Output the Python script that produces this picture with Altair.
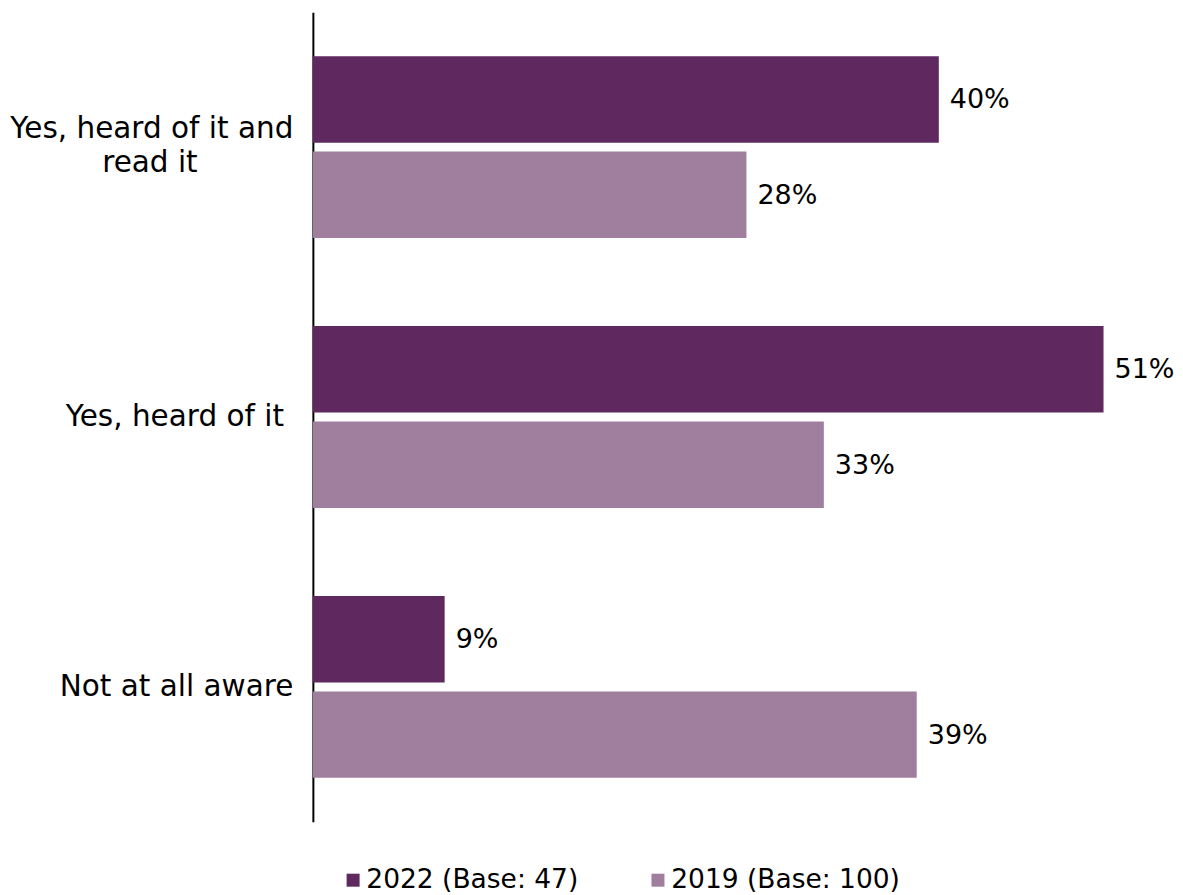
import altair as alt
import pandas as pd

BLANK = "\u2800"
categories = ["Yes, heard of it and read it", "Yes, heard of it", "Not at all aware"]
cat_labels = ["Yes, heard of it and|read it\u00a0" + BLANK * 4,
              "Yes, heard of it\u00a0\u200b", "Not at all aware"]
series = ["2022 (Base: 47)", "2019 (Base: 100)"]
values_2022 = [19 / 47 * 100, 24 / 47 * 100, 4 / 47 * 100]
values_2019 = [28, 33, 39]
colors = ["#5F285F", "#A07F9E"]

rows = []
for c, lab, v in zip(categories, cat_labels, values_2022):
    rows.append({"cat": lab, "series": series[0], "value": v, "label": f"{round(v)}%"})
for c, lab, v in zip(categories, cat_labels, values_2019):
    rows.append({"cat": lab, "series": series[1], "value": v, "label": f"{round(v)}%"})
df = pd.DataFrame(rows)

FONT = "DejaVu Sans"

y = alt.Y("cat:N", sort=cat_labels, title=None,
          scale=alt.Scale(paddingInner=0.326, paddingOuter=0.163),
          axis=alt.Axis(labelExpr="split(datum.label, '|')", labelFont=FONT, labelFontSize=29.5,
                        labelColor="black", labelPadding=20, ticks=False, domainColor="black",
                        domainWidth=2, labelLimit=400, labelLineHeight=34, grid=False,
                        labelOffset={"condition": {"test": "indexof(datum.value, '|') >= 0", "value": -18},
                                     "value": 0}))
yo = alt.YOffset("series:N", sort=series, scale=alt.Scale(paddingInner=0.094, paddingOuter=0))
x = alt.X("value:Q", scale=alt.Scale(domain=[0, 52]), axis=None)

bars = alt.Chart(df).mark_bar().encode(
    x=x, y=y, yOffset=yo,
    color=alt.Color("series:N", sort=series, scale=alt.Scale(domain=series, range=colors),
                    legend=alt.Legend(title=None, orient="none", legendX=27, legendY=855,
                                      direction="horizontal", symbolType="square",
                                      symbolSize=169, symbolStrokeWidth=0, labelFont=FONT,
                                      labelFontSize=26.5, labelColor="black", labelOffset=0,
                                      columnPadding=66, labelLimit=400)),
)
text = alt.Chart(df).mark_text(align="left", baseline="middle", dx=11, dy=1, font=FONT,
                               fontSize=27, color="black").encode(
    x=x, y=y, yOffset=yo, text="label:N")

chart = (bars + text).properties(width=805.5, height=810, padding={"left": 1, "top": 4, "right": 0, "bottom": 0}).configure_view(stroke=None)
chart.save("out.html", embed_options={"renderer": "svg", "actions": False})
